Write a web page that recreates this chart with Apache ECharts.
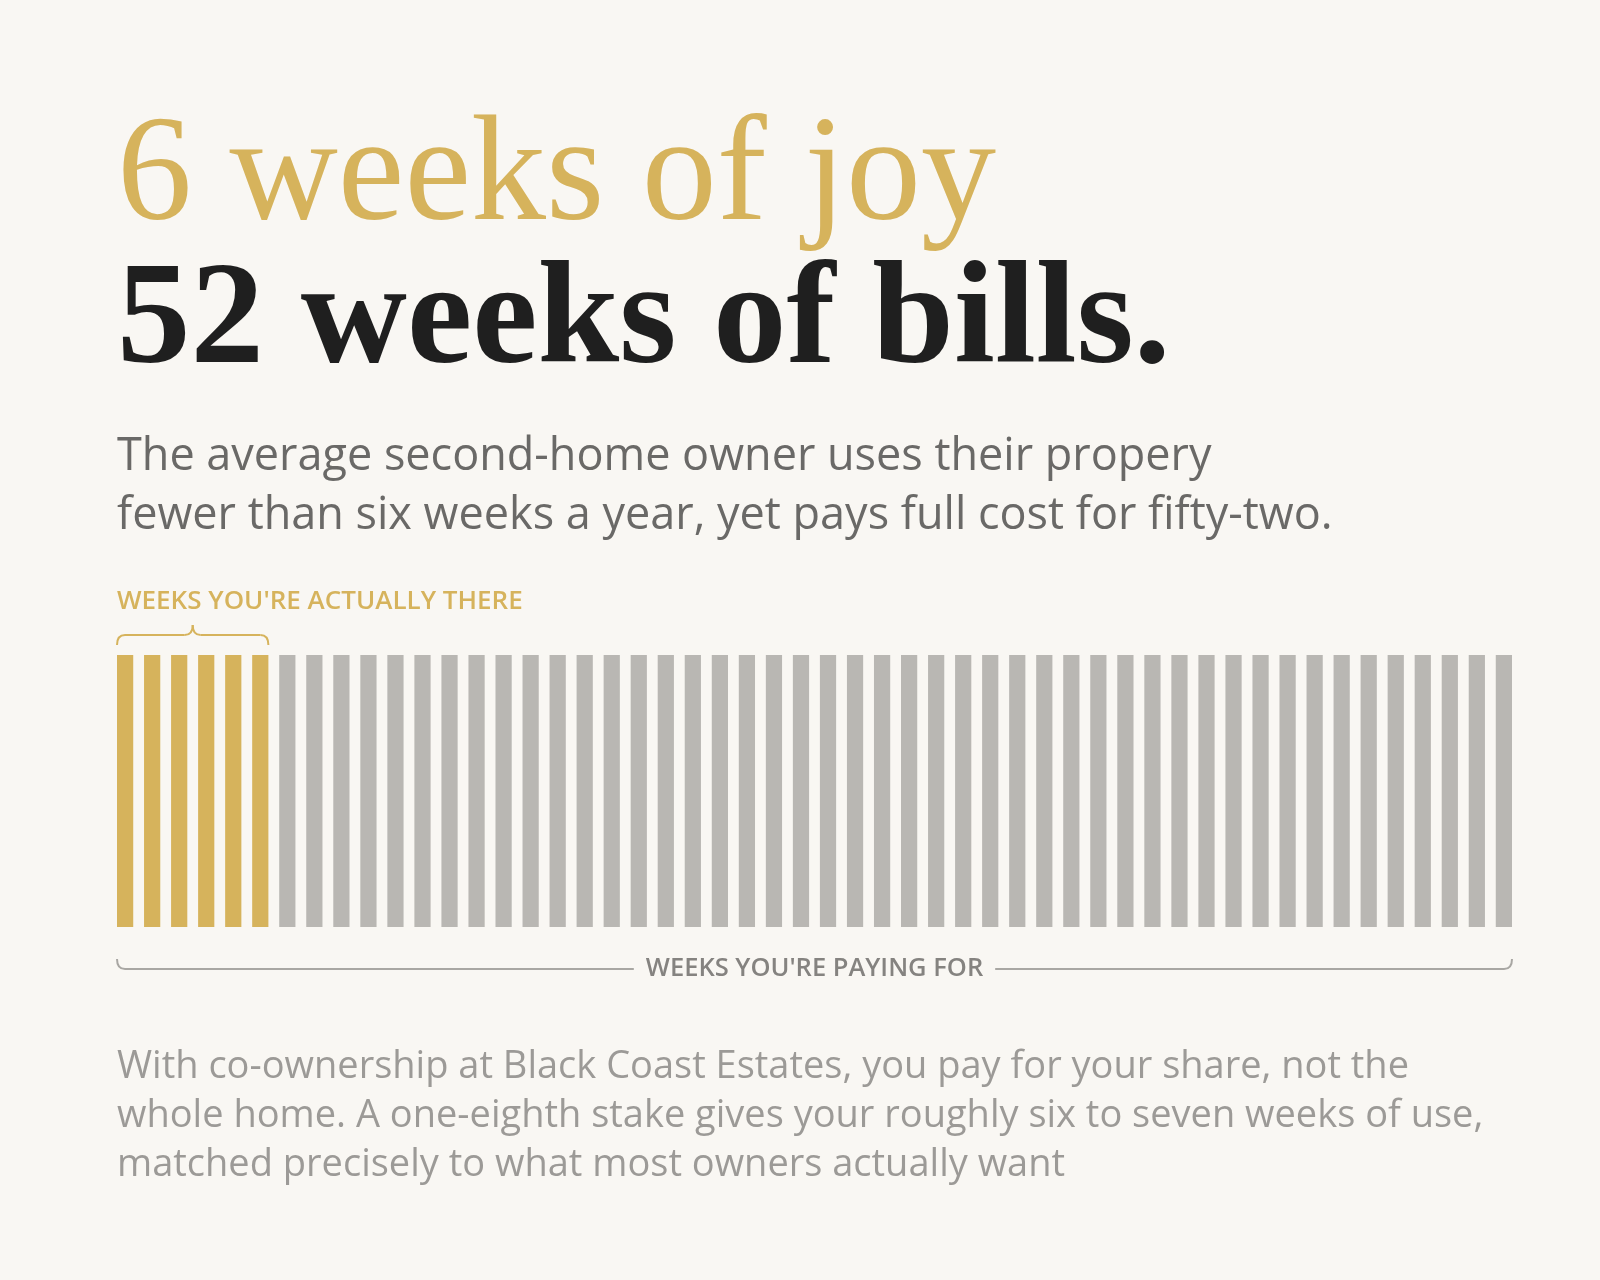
<!DOCTYPE html>
<html>
<head>
<meta charset="utf-8">
<title>6 weeks of joy</title>
<script src="https://cdn.jsdelivr.net/npm/echarts@6/dist/echarts.min.js"></script>
<style>
  html, body { margin: 0; padding: 0; background: #f9f7f3; }
  #chart { width: 1600px; height: 1280px; }
</style>
</head>
<body>
<div id="chart"></div>
<script>
// 数据
const weekLabels = [
  1, 2, 3, 4, 5, 6, 7, 8, 9, 10, 11, 12, 13,
  14, 15, 16, 17, 18, 19, 20, 21, 22, 23, 24, 25, 26,
  27, 28, 29, 30, 31, 32, 33, 34, 35, 36, 37, 38, 39,
  40, 41, 42, 43, 44, 45, 46, 47, 48, 49, 50, 51, 52
];
const paidValues = [
  1, 1, 1, 1, 1, 1, 1, 1, 1, 1, 1, 1, 1,
  1, 1, 1, 1, 1, 1, 1, 1, 1, 1, 1, 1, 1,
  1, 1, 1, 1, 1, 1, 1, 1, 1, 1, 1, 1, 1,
  1, 1, 1, 1, 1, 1, 1, 1, 1, 1, 1, 1, 1
];
const usedWeeks = 6;

const headline1 = "6 weeks of joy";
const headline2 = "52 weeks of bills.";
const subtitle = "The average second-home owner uses their propery\nfewer than six weeks a year, yet pays full cost for fifty-two.";
const usedLabel = "WEEKS YOU'RE ACTUALLY THERE";
const paidLabel = "WEEKS YOU'RE PAYING FOR";
const footnote = "With co-ownership at Black Coast Estates, you pay for your share, not the\nwhole home. A one-eighth stake gives your roughly six to seven weeks of use,\nmatched precisely to what most owners actually want";

const GOLD = "#d6b35c";
const GREY_BAR = "#b9b7b3";
const GREY_LINE = "#a9a7a3";
const BG = "#f9f7f3";
const SERIF = "'Liberation Serif', 'DejaVu Serif', serif";
const SANS = "'Open Sans', Lato, sans-serif";

let myChart = echarts.init(document.getElementById("chart"));

let option = {
  backgroundColor: BG,
  animation: false,
  grid: { left: 111.6, right: 82.6, top: 655, height: 272 },
  xAxis: {
    type: "category",
    data: weekLabels,
    show: false
  },
  yAxis: { type: "value", min: 0, max: 1, show: false },
  series: [
    {
      name: "Weeks",
      type: "bar",
      barCategoryGap: "40%",
      data: paidValues.map((v, i) => ({
        value: v,
        itemStyle: { color: i < usedWeeks ? GOLD : GREY_BAR }
      })),
      silent: true
    }
  ]
};
myChart.setOption(option);

// 括号位置从坐标轴换算
const px = (i) => myChart.convertToPixel({ xAxisIndex: 0 }, i);
const band = px(1) - px(0);
const half = band * 0.6 / 2;
const x0 = px(0) - half;
const xUsed = px(usedWeeks - 1) + half;
const xEnd = px(weekLabels.length - 1) + half;
const yTop = myChart.convertToPixel({ yAxisIndex: 0 }, 1);
const yBot = myChart.convertToPixel({ yAxisIndex: 0 }, 0);

const line = (xa, ya, xb, yb, color) => ({
  type: "line",
  shape: { x1: xa, y1: ya, x2: xb, y2: yb },
  style: { stroke: color, lineWidth: 2 }
});
const curve = (xa, ya, cx, cy, xb, yb, color) => ({
  type: "bezierCurve",
  shape: { x1: xa, y1: ya, cpx1: cx, cpy1: cy, x2: xb, y2: yb },
  style: { stroke: color, lineWidth: 2, fill: null }
});

// 上方括号
const m = (x0 + xUsed) / 2;
const bY = yTop - 20;
const topBrace = [
  curve(x0, bY + 10, x0, bY, x0 + 8, bY, GOLD),
  line(x0 + 8, bY, m - 8, bY, GOLD),
  curve(m - 8, bY, m, bY, m, bY - 10, GOLD),
  curve(m, bY - 10, m, bY, m + 8, bY, GOLD),
  line(m + 8, bY, xUsed - 8, bY, GOLD),
  curve(xUsed - 8, bY, xUsed, bY, xUsed, bY + 10, GOLD)
];

// 下方括号
const lineY = yBot + 42;
const botBrace = [
  curve(x0, lineY - 10, x0, lineY, x0 + 8, lineY, GREY_LINE),
  line(x0 + 8, lineY, xEnd - 8, lineY, GREY_LINE),
  curve(xEnd - 8, lineY, xEnd, lineY, xEnd, lineY - 10, GREY_LINE)
];

const text = (x, y, str, color, font, extra) => ({
  type: "text", x: x, y: y, z: 10,
  style: Object.assign({ text: str, fill: color, font: font, verticalAlign: "top" }, extra || {})
});

myChart.setOption({
  graphic: [
    text(x0, 105, headline1, GOLD, `150px ${SERIF}`),
    text(x0, 251, headline2, "#1f1f1f", `bold 147px ${SERIF}`),
    text(x0, 428, subtitle, "#6a6967", `45px ${SANS}`, { lineHeight: 59 }),
    text(x0, 589, usedLabel, GOLD, `600 26px ${SANS}`),
    ...topBrace,
    ...botBrace,
    text((x0 + xEnd) / 2, lineY, paidLabel, "#858380", `600 25.5px ${SANS}`, {
      align: "center", verticalAlign: "middle",
      backgroundColor: BG, padding: [2, 12]
    }),
    text(x0, 1043, footnote, "#9c9a97", `38px ${SANS}`, { lineHeight: 49 })
  ]
});

window.addEventListener("resize", function () {
  myChart.resize();
});
</script>
</body>
</html>
